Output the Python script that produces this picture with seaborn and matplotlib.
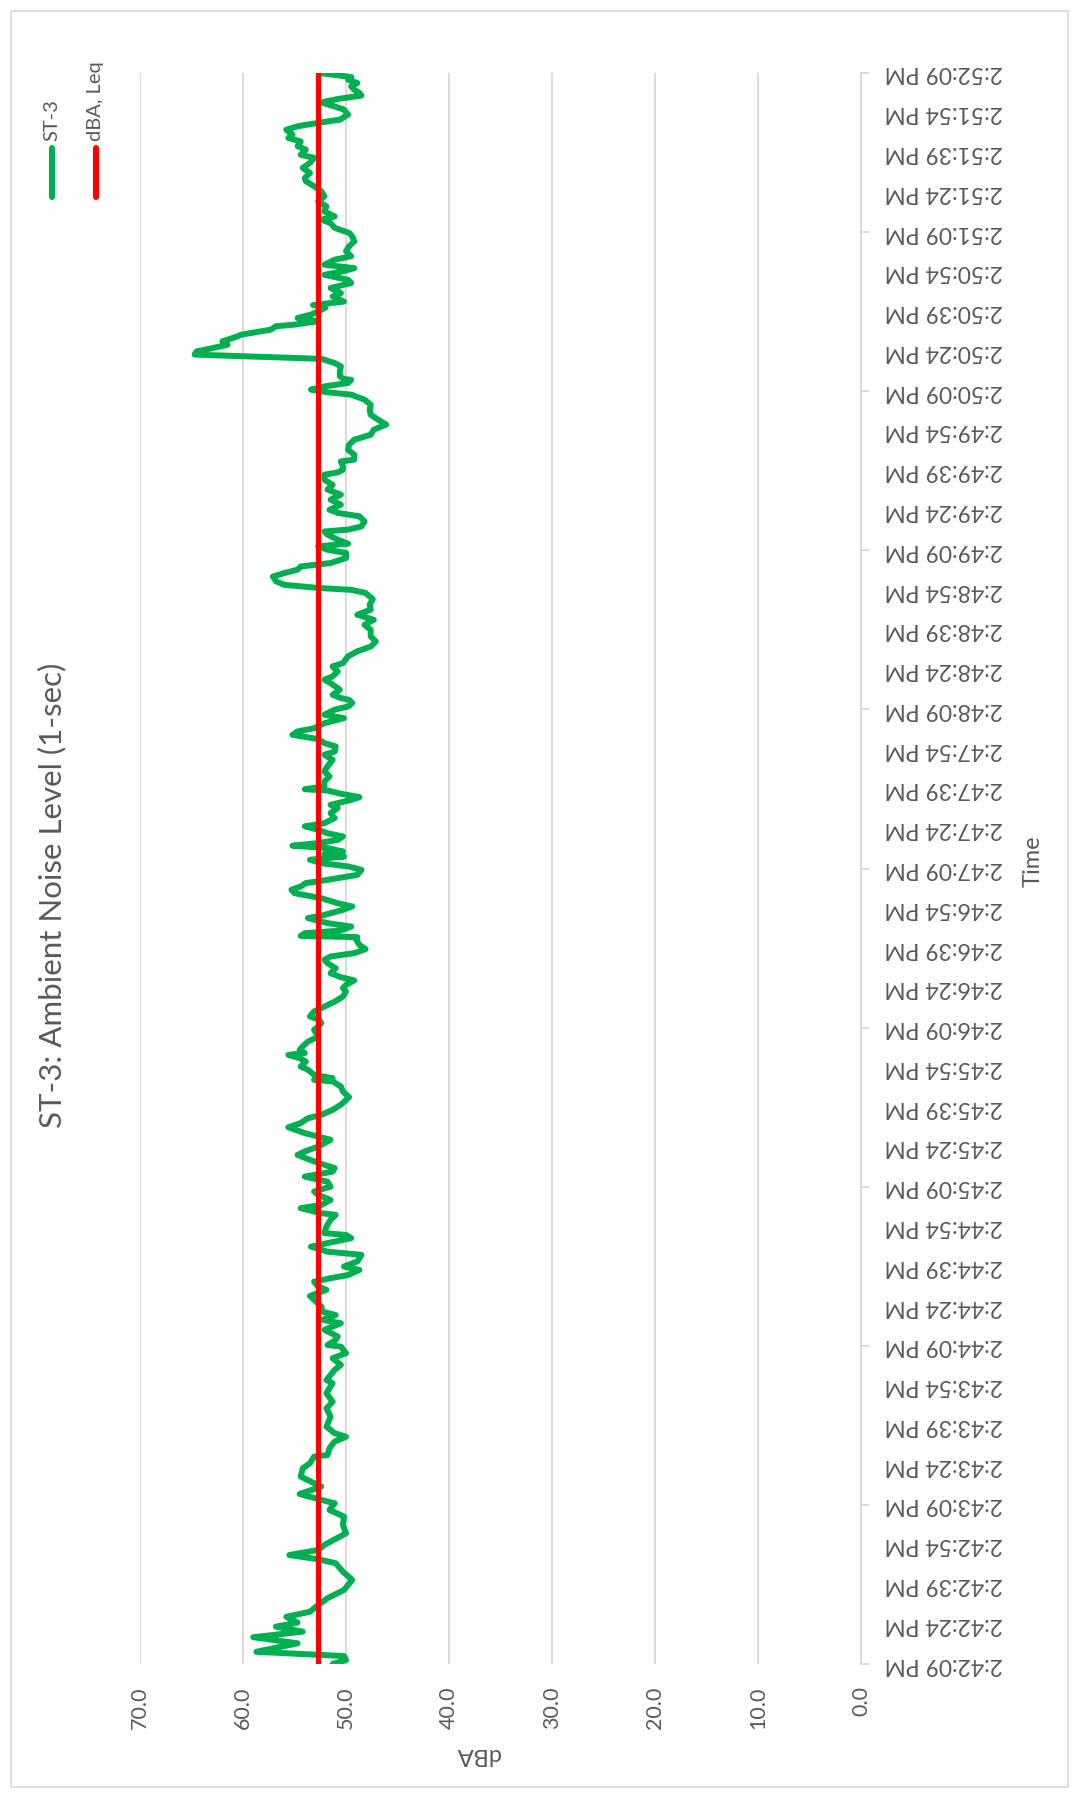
import matplotlib
matplotlib.use("Agg")
import matplotlib.pyplot as plt
import seaborn as sns
import pandas as pd
from matplotlib.lines import Line2D
from matplotlib.patches import Rectangle

# ---------------------------------------------------------------- data
TITLE = "ST-3: Ambient Noise Level (1-sec)"
SERIES_NAME = "ST-3"
LEQ_NAME = "dBA, Leq"
LEQ_DBA = 52.7

DBA_TICKS = [0, 10, 20, 30, 40, 50, 60, 70]

# category labels every 15 s, starting 2:42:09 PM
TIME_LABELS = [
    "2:42:09 PM", "2:42:24 PM", "2:42:39 PM", "2:42:54 PM",
    "2:43:09 PM", "2:43:24 PM", "2:43:39 PM", "2:43:54 PM",
    "2:44:09 PM", "2:44:24 PM", "2:44:39 PM", "2:44:54 PM",
    "2:45:09 PM", "2:45:24 PM", "2:45:39 PM", "2:45:54 PM",
    "2:46:09 PM", "2:46:24 PM", "2:46:39 PM", "2:46:54 PM",
    "2:47:09 PM", "2:47:24 PM", "2:47:39 PM", "2:47:54 PM",
    "2:48:09 PM", "2:48:24 PM", "2:48:39 PM", "2:48:54 PM",
    "2:49:09 PM", "2:49:24 PM", "2:49:39 PM", "2:49:54 PM",
    "2:50:09 PM", "2:50:24 PM", "2:50:39 PM", "2:50:54 PM",
    "2:51:09 PM", "2:51:24 PM", "2:51:39 PM", "2:51:54 PM",
    "2:52:09 PM",
]
LABEL_STEP_S = 15
TICK_STEP_S = 60

# seconds after 2:42:09 PM
SECONDS = [
    0.0, 1.5, 3.0, 4.6, 7.8, 10.1, 12.2, 14.1, 15.6, 17.8, 19.7, 22.3, 24.8,
    27.9, 31.7, 34.8, 38.0, 39.5, 41.1, 43.0, 44.9, 49.3, 52.4, 55.6, 58.1,
    60.6, 61.9,
    64.1, 66.9, 68.2, 70.7, 73.8, 75.7, 78.2, 78.8, 81.4, 83.9, 85.7, 87.0,
    89.5, 93.3, 96.4, 98.9, 102.1, 105.9, 107.1, 110.9, 112.8, 115.3, 117.2,
    119.7, 120.3, 122.2,
    123.5, 126.0, 128.5, 129.8, 131.6, 132.9, 134.8, 137.3, 138.8, 141.1,
    142.3, 144.2, 145.5, 146.7, 148.6, 149.9, 151.8, 154.3, 155.5, 157.4,
    158.7, 160.6, 161.8, 162.5, 165.0, 167.5, 169.4, 170.0, 171.9, 173.1,
    175.0, 176.9, 178.2, 180.0, 181.9,
    183.8, 185.7, 187.0, 188.9, 190.1, 192.0, 193.3, 195.1, 197.7, 198.9,
    200.2, 202.4, 204.0, 205.8, 207.1, 209.0, 210.9, 213.8, 215.9, 217.8,
    219.7, 220.3, 220.9, 222.2, 224.1, 225.3, 227.2, 228.5, 229.7, 230.4,
    231.6, 232.9, 234.7, 236.6, 239.2, 240.4, 241.7, 242.9,
    244.2, 246.1, 247.9, 249.8, 251.7, 253.6, 254.9, 256.1, 257.8, 259.0,
    260.5, 262.4, 264.3, 265.6, 266.8, 268.1, 269.6, 271.2, 273.1, 274.1,
    274.6, 275.6, 276.6, 278.1, 279.4, 281.3, 282.5, 284.4, 285.7, 286.9,
    288.8, 290.7, 292.0, 293.2, 294.5, 295.7, 297.6, 299.5, 300.8, 302.0,
    303.3,
    304.5, 305.5, 306.4, 307.7, 308.6, 309.6, 310.8, 312.1, 313.3, 314.6,
    315.9, 317.1, 319.0, 320.9, 322.8, 324.0, 325.9, 326.9, 328.2, 329.4,
    329.9, 330.9, 332.8, 334.7, 336.6, 338.5, 341.0, 342.9, 344.1, 346.0,
    347.3, 348.8, 350.4, 351.7, 352.9, 354.8, 356.7, 358.0, 359.9, 361.1,
    362.4, 363.6,
    364.3, 365.5, 367.4, 369.9, 371.2, 372.4, 374.3, 376.2, 377.5, 380.0,
    381.9, 383.7, 385.6, 387.5, 390.0, 391.9, 393.8, 395.7, 397.6, 399.5,
    401.6, 403.9, 405.1, 405.8, 407.0, 408.3, 410.1, 411.4, 412.7, 413.9,
    415.2, 417.1, 419.0, 420.2, 421.5, 422.5,
    424.0, 425.9, 427.1, 427.8, 429.0, 430.9, 432.8, 434.1, 435.3, 437.2,
    439.1, 441.0, 442.9, 444.7, 446.6, 448.5, 449.4, 450.4, 451.6, 453.5,
    454.2, 456.1, 457.9, 459.8, 461.7, 463.6, 465.5, 467.4, 469.3, 471.1,
    473.0, 474.9, 476.8, 478.7, 479.6, 480.6, 481.8, 483.1, 484.3,
    484.6, 485.6, 487.5, 489.4, 490.6, 492.2, 493.0, 493.8, 495.0, 496.2,
    497.5, 498.8, 500.7, 501.3, 503.2, 504.5, 505.1, 506.4, 507.6, 508.9,
    510.1, 511.5, 512.5, 513.8, 515.7, 517.0, 518.9, 520.8, 522.0, 523.9,
    525.2, 526.4, 527.7, 529.6, 530.9, 532.8, 534.6, 536.5, 538.4, 539.7,
    541.6, 543.4, 544.7,
    545.9, 547.8, 549.7, 551.6, 553.5, 555.4, 557.3, 559.2, 560.4, 562.3,
    564.2, 566.1, 568.0, 569.2, 571.1, 572.4, 574.2, 575.5, 576.8, 578.6,
    579.9, 581.2, 582.4, 584.3, 586.2, 587.4, 588.9, 590.2, 591.5, 592.5,
    593.7, 595.0, 596.2, 597.5, 598.5, 600.0,
]

ST3_DBA = [
    51.3, 50.0, 50.2, 58.7, 54.7, 59.0, 54.2, 56.8, 54.7, 55.8, 53.5, 52.7, 51.8,
    50.2, 49.4, 50.3, 51.0, 52.7, 55.5, 52.7, 52.1, 50.0, 50.3, 50.2, 51.6,
    51.1, 52.4,
    54.5, 52.4, 53.1, 54.4, 54.2, 53.5, 53.1, 51.8, 51.6, 51.1, 50.0, 51.1,
    51.9, 51.5, 51.9, 51.3, 51.9, 51.3, 51.9, 51.1, 50.5, 51.3, 50.0,
    50.5, 51.8, 51.0,
    50.8, 52.1, 50.5, 52.3, 51.0, 52.3, 52.4, 53.1, 53.5, 51.9,
    52.7, 53.1, 51.5, 49.8, 48.7, 50.2, 48.9, 48.5, 51.8, 53.4,
    51.8, 49.5, 50.0, 52.1, 51.9, 51.5, 51.0, 52.4, 54.4, 52.4,
    51.5, 52.7, 53.1, 51.5, 51.8,
    54.0, 51.3, 51.1, 52.6, 53.5, 54.7, 54.0, 52.7, 51.5, 52.7,
    54.0, 55.6, 54.4, 53.7, 52.4, 51.3, 50.5, 49.7, 50.3, 50.5,
    51.3, 53.1, 51.3, 53.1, 53.7, 54.4, 53.9, 54.5, 55.6, 54.0,
    54.5, 54.2, 53.7, 52.7, 53.1, 52.7, 52.4, 52.6,
    53.5, 53.1, 52.1, 51.1, 50.3, 50.0, 50.3, 50.0, 49.2, 50.5,
    51.5, 51.0, 51.8, 52.1, 51.5, 49.2, 48.1, 48.7, 49.0, 48.9,
    54.4, 54.0, 50.5, 49.5, 51.8, 53.7, 52.1, 50.3, 49.4, 50.8,
    52.4, 55.0, 55.3, 54.4, 53.9, 51.8, 48.9, 48.5, 49.8, 52.4,
    53.5,
    50.2, 52.1, 50.3, 51.8, 55.2, 52.7, 50.8, 50.3, 51.8, 52.7,
    54.0, 52.1, 51.1, 51.5, 50.8, 51.5, 49.5, 48.7, 50.5, 51.8,
    54.0, 52.1, 52.1, 51.6, 52.1, 51.8, 51.3, 52.1, 51.1, 51.0,
    52.1, 52.7, 55.2, 54.7, 53.1, 52.1, 50.2, 52.1, 51.1, 49.8,
    49.4, 49.7,
    50.5, 51.3, 50.6, 51.5, 52.1, 51.3, 50.8, 51.3, 50.3, 49.8,
    48.9, 47.6, 47.1, 47.6, 47.6, 48.2, 47.3, 48.9, 47.6, 47.7,
    47.4, 48.1, 49.5, 52.7, 56.0, 56.8, 57.1, 56.0, 54.7, 54.4,
    51.5, 50.0, 50.0, 51.8, 52.7, 49.8,
    50.8, 51.8, 52.1, 49.8, 48.5, 48.2, 48.7, 50.8, 51.6, 50.5,
    51.5, 50.5, 51.8, 51.3, 52.1, 52.1, 50.8, 50.3, 50.3, 50.5,
    49.2, 49.2, 49.8, 49.7, 49.2, 47.6, 47.3, 46.1, 46.9, 47.6,
    47.7, 47.6, 48.2, 49.5, 51.8, 53.4, 52.1, 49.8, 49.5,
    50.2, 50.6, 50.6, 50.5, 51.1, 52.4, 58.5, 64.7, 64.5, 63.0,
    61.5, 62.0, 60.5, 60.2, 57.3, 56.8, 55.0, 52.7, 54.7, 53.4,
    52.7, 52.0, 53.2, 50.2, 51.3, 50.5, 51.5, 49.5, 49.8, 52.1,
    50.3, 49.2, 52.1, 51.1, 49.5, 50.0, 49.7, 49.2, 49.4, 49.7,
    51.1, 51.5, 52.4,
    51.1, 52.1, 51.9, 52.7, 52.1, 52.4, 53.1, 53.9, 54.0, 53.5,
    54.2, 53.5, 53.1, 54.4, 53.9, 54.7, 54.4, 55.6, 55.2, 55.8,
    54.7, 52.7, 50.6, 49.8, 50.2, 51.1, 52.4, 50.8, 48.5, 48.7,
    49.2, 49.5, 48.9, 49.8, 49.5, 52.6,
]

# ---------------------------------------------------------------- style
GREEN = "#00B050"
RED = "#FF0000"
GRID = "#D9D9D9"
TEXT = "#595959"

sns.set_theme(style="white")
plt.rcParams["font.family"] = ["Lato", "DejaVu Sans"]

W, H = 1079, 1800
fig = plt.figure(figsize=(W / 100, H / 100), dpi=100)
fig.patch.set_facecolor("white")


def fx(px):
    return px / W


def fy(py):
    return 1 - py / H


# plot area: dBA runs right-to-left, time runs bottom-to-top
ax_left, ax_right, ax_top, ax_bottom = 140, 861, 73, 1664
ax = fig.add_axes([fx(ax_left), fy(ax_bottom), fx(ax_right - ax_left),
                   (ax_bottom - ax_top) / H])
ax.set_facecolor("white")

noise = pd.DataFrame({"seconds": SECONDS, "dBA": ST3_DBA})
sns.lineplot(data=noise, x="dBA", y="seconds", orient="y", sort=False,
             estimator=None, color=GREEN, linewidth=4.3, ax=ax,
             solid_joinstyle="round", solid_capstyle="round", zorder=3)

leq = pd.DataFrame({"seconds": [SECONDS[0], SECONDS[-1]],
                    "dBA": [LEQ_DBA, LEQ_DBA]})
sns.lineplot(data=leq, x="dBA", y="seconds", orient="y", sort=False,
             estimator=None, color=RED, linewidth=3.7, ax=ax, zorder=4)

ax.set_xlim(DBA_TICKS[-1], DBA_TICKS[0])
ax.set_ylim(SECONDS[0], SECONDS[-1])

# value axis (bottom)
ax.set_xticks(DBA_TICKS)
ax.set_xticklabels([f"{v:.1f}" for v in DBA_TICKS])
ax.tick_params(axis="x", which="both", length=0, pad=16, labelsize=15.5,
               labelcolor=TEXT, labelrotation=90)
ax.grid(axis="x", color=GRID, linewidth=1.4)
ax.grid(axis="y", visible=False)
ax.set_axisbelow(True)

# time axis (right)
ax.yaxis.tick_right()
label_pos = [i * LABEL_STEP_S for i in range(len(TIME_LABELS))]
ax.set_yticks(label_pos)
ax.set_yticklabels(TIME_LABELS)
ax.set_yticks(list(range(0, int(SECONDS[-1]) + 1, TICK_STEP_S)), minor=True)
ax.yaxis.remove_overlapping_locs = False
ax.tick_params(axis="y", which="major", length=0, pad=17, labelsize=16.5,
               labelcolor=TEXT, labelrotation=180)
ax.tick_params(axis="y", which="minor", length=6, width=1.4, color=GRID,
               direction="out", right=True, left=False)
for lbl in ax.get_yticklabels():
    lbl.set_horizontalalignment("left")
    lbl.set_verticalalignment("center")

for side in ("top", "left", "bottom"):
    ax.spines[side].set_visible(False)
ax.spines["right"].set_color(GRID)
ax.spines["right"].set_linewidth(1.4)
ax.set_xlabel("")
ax.set_ylabel("")

# titles
fig.text(fx(52), fy(895), TITLE, rotation=90, ha="center", va="center",
         fontsize=22.5, color=TEXT)
fig.text(fx(1033), fy(861), "Time", rotation=90, ha="center", va="center",
         fontsize=17, color=TEXT)
fig.text(fx(478), fy(1755), "dBA", rotation=180, ha="center", va="center",
         fontsize=17, color=TEXT)

# legend (top)
for x, color, name in ((52, GREEN, SERIES_NAME), (96, RED, LEQ_NAME)):
    fig.add_artist(Line2D([fx(x), fx(x)], [fy(197), fy(148)], color=color,
                          linewidth=4.4, solid_capstyle="round",
                          transform=fig.transFigure))
    fig.text(fx(x), fy(141), name, rotation=90, ha="center", va="bottom",
             fontsize=14.5, color=TEXT)

# chart border
fig.add_artist(Rectangle((fx(11), fy(1787)), fx(1068 - 11), (1787 - 11) / H,
                         fill=False, edgecolor=GRID, linewidth=1.2,
                         transform=fig.transFigure))

fig.savefig("out.png", dpi=100, facecolor="white")
